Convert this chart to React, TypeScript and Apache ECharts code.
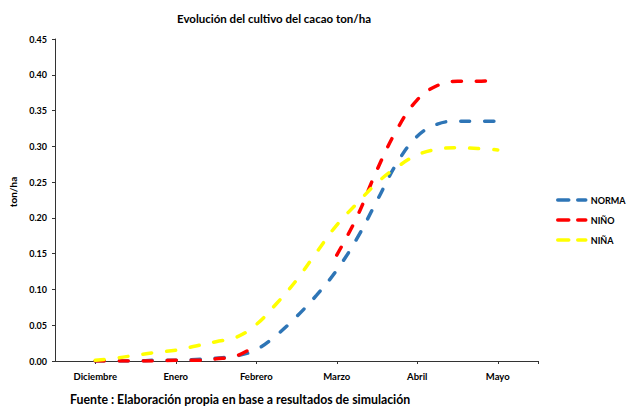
import React, { useEffect, useRef } from "react";
import * as echarts from "echarts";

// Months shown on the horizontal axis
const months = ["Diciembre", "Enero", "Febrero", "Marzo", "Abril", "Mayo"];
// Readings are taken every quarter month, from Diciembre to Mayo
const STEPS_PER_MONTH = 4;
// Empty quarter-month slots before the first and after the last month
const EDGE_STEPS = 2;

const yTicks = [0, 0.05, 0.1, 0.15, 0.2, 0.25, 0.3, 0.35, 0.4, 0.45];

// ton/ha per quarter month
const norma = [
  0, 0, 0, 0.001, 0.001, 0.002, 0.004, 0.007, 0.016, 0.036, 0.062, 0.092,
  0.127, 0.171, 0.224, 0.277, 0.314, 0.331, 0.335, 0.335, 0.335,
];
const nino = [
  0, 0, 0, 0, 0.001, 0.001, 0.003, 0.007, 0.022, null, null, null, 0.148,
  0.201, 0.267, 0.324, 0.365, 0.385, 0.391, 0.391, 0.393,
];
const nina = [
  0.001, 0.004, 0.008, 0.012, 0.015, 0.021, 0.027, 0.033, 0.051, 0.08, 0.113,
  0.152, 0.19, 0.22, 0.249, 0.271, 0.288, 0.296, 0.298, 0.297, 0.295,
];

const FONT = "Lato";
const totalSlots = (months.length - 1) * STEPS_PER_MONTH + 1 + EDGE_STEPS * 2;

const isMonthSlot = (i: number) => {
  const k = i - EDGE_STEPS;
  return k >= 0 && k % STEPS_PER_MONTH === 0 && k / STEPS_PER_MONTH < months.length;
};

const categories = Array.from({ length: totalSlots }, (_, i) =>
  isMonthSlot(i) ? months[(i - EDGE_STEPS) / STEPS_PER_MONTH] : "s" + i
);

const pad = (values: (number | null)[]) => [
  ...Array(EDGE_STEPS).fill(null),
  ...values,
  ...Array(EDGE_STEPS).fill(null),
];

const lineSeries = (name: string, color: string, values: (number | null)[]) => ({
  name,
  type: "line",
  data: pad(values),
  smooth: 0.4,
  symbol: "none",
  connectNulls: false,
  lineStyle: { color, width: 3.5, type: [9, 15], cap: "round" },
  itemStyle: { color },
});

export default function App() {
  const ref = useRef<HTMLDivElement>(null);

  useEffect(() => {
    if (!ref.current) return;
    const chart = echarts.init(ref.current, null, { renderer: "svg" });
    chart.setOption({
      animation: false,
      backgroundColor: "#ffffff",
      textStyle: { fontFamily: FONT },
      title: {
        text: "Evolución del cultivo del cacao ton/ha",
        left: 172,
        top: 7,
        textStyle: { fontFamily: FONT, fontWeight: "bold", fontSize: 11.5, color: "#000" },
      },
      graphic: [
        {
          type: "text",
          left: 70,
          top: 393,
          style: {
            text: "Fuente : Elaboración propia en base a resultados de simulación",
            font: `bold 12.3px ${FONT}`,
            fill: "#000",
          },
        },
      ],
      legend: {
        orient: "vertical",
        left: 556,
        top: 194,
        padding: 0,
        itemWidth: 28,
        itemHeight: 8,
        itemGap: 8,
        itemStyle: { opacity: 0 },
        lineStyle: { type: [11, 9], width: 3.5, cap: "round" },
        textStyle: { fontFamily: FONT, fontWeight: "bold", fontSize: 9, color: "#000", lineHeight: 12 },
        data: ["NORMA", "NIÑO", "NIÑA"],
      },
      grid: { left: 55, right: 88, top: 39, bottom: 47 },
      xAxis: {
        type: "category",
        data: categories,
        boundaryGap: false,
        axisLine: { lineStyle: { color: "#333", width: 1 } },
        axisTick: {
          length: 3,
          lineStyle: { color: "#333" },
          interval: (i: number) => isMonthSlot(i) || i === totalSlots - 1,
        },
        axisLabel: {
          interval: (i: number) => isMonthSlot(i),
          margin: 10,
          fontFamily: FONT,
          fontWeight: "bold",
          fontSize: 9.5,
          color: "#000",
        },
        splitLine: { show: false },
      },
      yAxis: {
        type: "value",
        min: yTicks[0],
        max: yTicks[yTicks.length - 1],
        interval: 0.05,
        name: "ton/ha",
        nameLocation: "middle",
        nameGap: 35,
        nameRotate: 90,
        nameTextStyle: { fontFamily: FONT, fontWeight: "bold", fontSize: 10, color: "#000", padding: [0, 0, 0, 16] },
        axisLine: { show: true, lineStyle: { color: "#333", width: 1 } },
        axisTick: { show: true, length: 3, lineStyle: { color: "#333" } },
        axisLabel: {
          margin: 8,
          fontFamily: FONT,
          fontWeight: "bold",
          fontSize: 9,
          color: "#000",
          formatter: (v: number) => v.toFixed(2),
        },
        splitLine: { show: false },
      },
      series: [
        lineSeries("NORMA", "#2E75B6", norma),
        lineSeries("NIÑO", "#FF0000", nino),
        lineSeries("NIÑA", "#FFFF00", nina),
      ],
    });
    return () => chart.dispose();
  }, []);

  return (
    <div
      ref={ref}
      style={{ position: "fixed", left: 0, top: 0, width: 626, height: 408 }}
    />
  );
}
